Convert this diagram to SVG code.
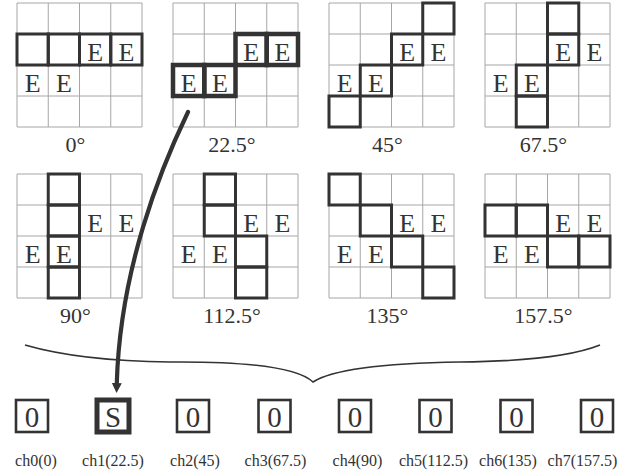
<svg xmlns="http://www.w3.org/2000/svg" xmlns:xlink="http://www.w3.org/1999/xlink" width="642" height="476" viewBox="0 0 642 476">
<style>
.bg{fill:#fff}
.thin{fill:none;stroke:#a6a6a6;stroke-width:1}
.thick{fill:none;stroke:#333;stroke-width:3}
.thicker{fill:none;stroke:#333;stroke-width:4.5}
.e{font-family:"Liberation Serif","Times New Roman",serif;font-size:26px;fill:#333;text-anchor:middle}
.deg{font-family:"Liberation Serif","Times New Roman",serif;font-size:22px;fill:#333;text-anchor:middle}
.box{fill:#fff;stroke:#333;stroke-width:2.6}
.boxs{fill:#fff;stroke:#333;stroke-width:5}
.bt{font-family:"Liberation Serif","Times New Roman",serif;font-size:29px;fill:#333;text-anchor:middle}
.ch{font-family:"Liberation Serif","Times New Roman",serif;font-size:16px;fill:#333;text-anchor:middle}
.brace{fill:none;stroke:#333;stroke-width:1.6}
.arrow{fill:none;stroke:#333;stroke-width:4.2;stroke-linecap:round}
</style>
<defs>
<path id="grid" class="thin" d="M0,0H125M0,31H125M0,62H125M0,93H125M0,124H125M0,0V124M31.25,0V124M62.5,0V124M93.75,0V124M125,0V124"/>
<marker id="ah" markerUnits="userSpaceOnUse" markerWidth="10" markerHeight="10" viewBox="0 0 10 10" refX="0" refY="5" orient="auto">
<path d="M0,0 L10,5 L0,10 z" fill="#333"/>
</marker>
</defs>
<rect class="bg" x="0" y="0" width="642" height="476"/>

<g id="grid0" transform="translate(17,3)">
<use xlink:href="#grid"/>
<rect class="thick" x="0" y="31" width="31.25" height="31"/>
<rect class="thick" x="31.25" y="31" width="31.25" height="31"/>
<rect class="thick" x="62.5" y="31" width="31.25" height="31"/>
<rect class="thick" x="93.75" y="31" width="31.25" height="31"/>
<text class="e" x="78.1" y="57.5">E</text><text class="e" x="109.4" y="57.5">E</text>
<text class="e" x="15.6" y="88.5">E</text><text class="e" x="46.9" y="88.5">E</text>
<text class="deg" x="58.5" y="149">0°</text>
</g>

<g id="grid22" transform="translate(173,3)">
<use xlink:href="#grid"/>
<rect class="thicker" x="62.5" y="31" width="31.25" height="31"/>
<rect class="thicker" x="93.75" y="31" width="31.25" height="31"/>
<rect class="thicker" x="0" y="62" width="31.25" height="31"/>
<rect class="thicker" x="31.25" y="62" width="31.25" height="31"/>
<text class="e" x="78.1" y="57.5">E</text><text class="e" x="109.4" y="57.5">E</text>
<text class="e" x="15.6" y="88.5">E</text><text class="e" x="46.9" y="88.5">E</text>
<text class="deg" x="59" y="149">22.5°</text>
</g>

<g id="grid45" transform="translate(329,3)">
<use xlink:href="#grid"/>
<rect class="thick" x="93.75" y="0" width="31.25" height="31"/>
<rect class="thick" x="62.5" y="31" width="31.25" height="31"/>
<rect class="thick" x="31.25" y="62" width="31.25" height="31"/>
<rect class="thick" x="0" y="93" width="31.25" height="31"/>
<text class="e" x="78.1" y="57.5">E</text><text class="e" x="109.4" y="57.5">E</text>
<text class="e" x="15.6" y="88.5">E</text><text class="e" x="46.9" y="88.5">E</text>
<text class="deg" x="58.5" y="149">45°</text>
</g>

<g id="grid67" transform="translate(485,3)">
<use xlink:href="#grid"/>
<rect class="thick" x="62.5" y="0" width="31.25" height="31"/>
<rect class="thick" x="62.5" y="31" width="31.25" height="31"/>
<rect class="thick" x="31.25" y="62" width="31.25" height="31"/>
<rect class="thick" x="31.25" y="93" width="31.25" height="31"/>
<text class="e" x="78.1" y="57.5">E</text><text class="e" x="109.4" y="57.5">E</text>
<text class="e" x="15.6" y="88.5">E</text><text class="e" x="46.9" y="88.5">E</text>
<text class="deg" x="58.5" y="149">67.5°</text>
</g>

<g id="grid90" transform="translate(17,174)">
<use xlink:href="#grid"/>
<rect class="thick" x="31.25" y="0" width="31.25" height="31"/>
<rect class="thick" x="31.25" y="31" width="31.25" height="31"/>
<rect class="thick" x="31.25" y="62" width="31.25" height="31"/>
<rect class="thick" x="31.25" y="93" width="31.25" height="31"/>
<text class="e" x="78.1" y="57.5">E</text><text class="e" x="109.4" y="57.5">E</text>
<text class="e" x="15.6" y="88.5">E</text><text class="e" x="46.9" y="88.5">E</text>
<text class="deg" x="58.5" y="149">90°</text>
</g>

<g id="grid112" transform="translate(173,174)">
<use xlink:href="#grid"/>
<rect class="thick" x="31.25" y="0" width="31.25" height="31"/>
<rect class="thick" x="31.25" y="31" width="31.25" height="31"/>
<rect class="thick" x="62.5" y="62" width="31.25" height="31"/>
<rect class="thick" x="62.5" y="93" width="31.25" height="31"/>
<text class="e" x="78.1" y="57.5">E</text><text class="e" x="109.4" y="57.5">E</text>
<text class="e" x="15.6" y="88.5">E</text><text class="e" x="46.9" y="88.5">E</text>
<text class="deg" x="59" y="149">112.5°</text>
</g>

<g id="grid135" transform="translate(329,174)">
<use xlink:href="#grid"/>
<rect class="thick" x="0" y="0" width="31.25" height="31"/>
<rect class="thick" x="31.25" y="31" width="31.25" height="31"/>
<rect class="thick" x="62.5" y="62" width="31.25" height="31"/>
<rect class="thick" x="93.75" y="93" width="31.25" height="31"/>
<text class="e" x="78.1" y="57.5">E</text><text class="e" x="109.4" y="57.5">E</text>
<text class="e" x="15.6" y="88.5">E</text><text class="e" x="46.9" y="88.5">E</text>
<text class="deg" x="58.5" y="149">135°</text>
</g>

<g id="grid157" transform="translate(485,174)">
<use xlink:href="#grid"/>
<rect class="thick" x="0" y="31" width="31.25" height="31"/>
<rect class="thick" x="31.25" y="31" width="31.25" height="31"/>
<rect class="thick" x="62.5" y="62" width="31.25" height="31"/>
<rect class="thick" x="93.75" y="62" width="31.25" height="31"/>
<text class="e" x="78.1" y="57.5">E</text><text class="e" x="109.4" y="57.5">E</text>
<text class="e" x="15.6" y="88.5">E</text><text class="e" x="46.9" y="88.5">E</text>
<text class="deg" x="58.5" y="149">157.5°</text>
</g>

<g id="ch0"><rect class="box" x="16" y="400" width="32" height="32"/><text class="bt" x="32" y="426.5">0</text><text class="ch" x="36" y="466">ch0(0)</text></g>
<g id="ch1"><rect class="boxs" x="97" y="400" width="32" height="32"/><text class="bt" x="113" y="426.5">S</text><text class="ch" x="113" y="466">ch1(22.5)</text></g>
<g id="ch2"><rect class="box" x="177" y="400" width="32" height="32"/><text class="bt" x="193" y="426.5">0</text><text class="ch" x="195" y="466">ch2(45)</text></g>
<g id="ch3"><rect class="box" x="258.5" y="400" width="32" height="32"/><text class="bt" x="274.5" y="426.5">0</text><text class="ch" x="275.5" y="466">ch3(67.5)</text></g>
<g id="ch4"><rect class="box" x="339" y="400" width="32" height="32"/><text class="bt" x="355" y="426.5">0</text><text class="ch" x="357.5" y="466">ch4(90)</text></g>
<g id="ch5"><rect class="box" x="419.5" y="400" width="32" height="32"/><text class="bt" x="435.5" y="426.5">0</text><text class="ch" x="433.5" y="466">ch5(112.5)</text></g>
<g id="ch6"><rect class="box" x="500.5" y="400" width="32" height="32"/><text class="bt" x="516.5" y="426.5">0</text><text class="ch" x="508" y="466">ch6(135)</text></g>
<g id="ch7"><rect class="box" x="581" y="400" width="32" height="32"/><text class="bt" x="597" y="426.5">0</text><text class="ch" x="582.5" y="466">ch7(157.5)</text></g>

<g id="connectors">
<path class="brace" d="M25,345 Q80,361 170,362 Q290,361 313,382 Q340,364 460,362 Q560,361 600,345"/>
<path class="arrow" d="M188,112 C160,170 120,270 116.8,383" marker-end="url(#ah)"/>
</g>
</svg>
